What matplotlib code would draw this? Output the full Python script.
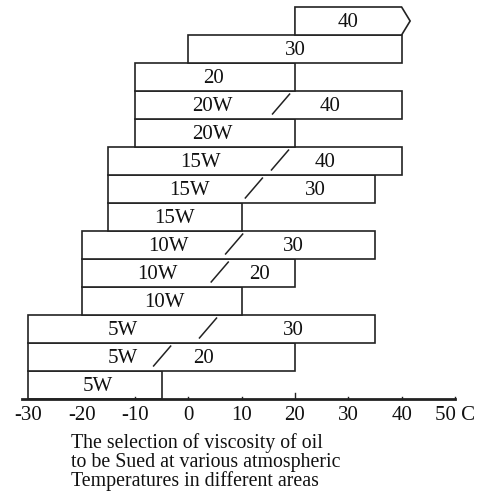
import matplotlib
matplotlib.use("Agg")
import matplotlib.pyplot as plt

plt.rcParams['font.family'] = ['Liberation Serif', 'DejaVu Serif']

# rows from bottom to top
grades = ["5W", "5W/20", "5W/30", "10W", "10W/20", "10W/30", "15W",
          "15W/30", "15W/40", "20W", "20W/40", "20", "30", "40"]
low = [-30, -30, -30, -20, -20, -20, -15, -15, -15, -10, -10, -10, 0, 20]
high = [-5, 20, 35, 10, 20, 35, 10, 35, 40, 20, 40, 20, 40, 40]
ticks = [-30, -20, -10, 0, 10, 20, 30, 40, 50]
tick_labels = ["-30", "-20", "-10", "0", "10", "20", "30", "40", "50 C"]
caption = ["The selection of viscosity of oil",
           "to be Sued at various atmospheric",
           "Temperatures in different areas"]

# where the label parts sit inside each bar (first, slash, second)
label_x = [(-16.9,), (-12.2, -4.9, 2.8), (-12.2, 3.7, 19.8), (-4.5,),
           (-5.7, 5.9, 13.4), (-3.8, 8.6, 19.8), (-2.5,), (0.3, 12.3, 23.8),
           (2.2, 17.2, 25.6), (4.5,), (4.5, 17.4, 26.5), (4.8,), (20,), (30,)]

ec = "#222222"
fs = 15
fig = plt.figure(figsize=(4.84, 4.91), dpi=100)
ax = fig.add_axes([0, 0, 1, 1])
ax.set_xlim(-35.3, 55.45)
ax.set_ylim(-3.286, 14.25)
ax.axis("off")

n = len(grades)
# all bars except the arrow-ended top one
ax.barh(range(n - 1), [h - l for h, l in zip(high[:-1], low[:-1])], left=low[:-1],
        height=1, align="edge", color="white", edgecolor=ec, linewidth=1.2)
# top bar with pointed right end
t = n - 1
ax.fill([low[t], low[t], high[t], high[t] + 1.6, high[t]],
        [t, t + 1, t + 1, t + 0.5, t], facecolor="white", edgecolor=ec, linewidth=1.2)

for i, g in enumerate(grades):
    parts = g.split("/")
    xs = label_x[i]
    yc = i + 0.45
    ax.text(xs[0], yc, parts[0], ha="center", va="center", fontsize=fs, color="#111111")
    if len(parts) > 1:
        ax.plot([xs[1] - 1.6, xs[1] + 1.6], [i + 0.18, i + 0.89], color=ec, lw=1.1)
        ax.text(xs[2], yc, parts[1], ha="center", va="center", fontsize=fs, color="#111111")

# baseline axis
ax.plot([-31.2, 50], [0, 0], color=ec, lw=2)
for tk, lab in zip(ticks, tick_labels):
    if tk > -30 and tk != -20:
        ax.plot([tk, tk], [0, 0.2 if tk == 20 else 0.08], color=ec, lw=1)
    ax.text(tk, -0.6, lab, ha="center", va="center", fontsize=fs, color="#111111")

for k, line in enumerate(caption):
    ax.text(-22.0, -1.75 - 0.68 * k, line, ha="left", va="baseline",
            fontsize=14.3, color="#111111")

fig.savefig("out.png", dpi=100)
